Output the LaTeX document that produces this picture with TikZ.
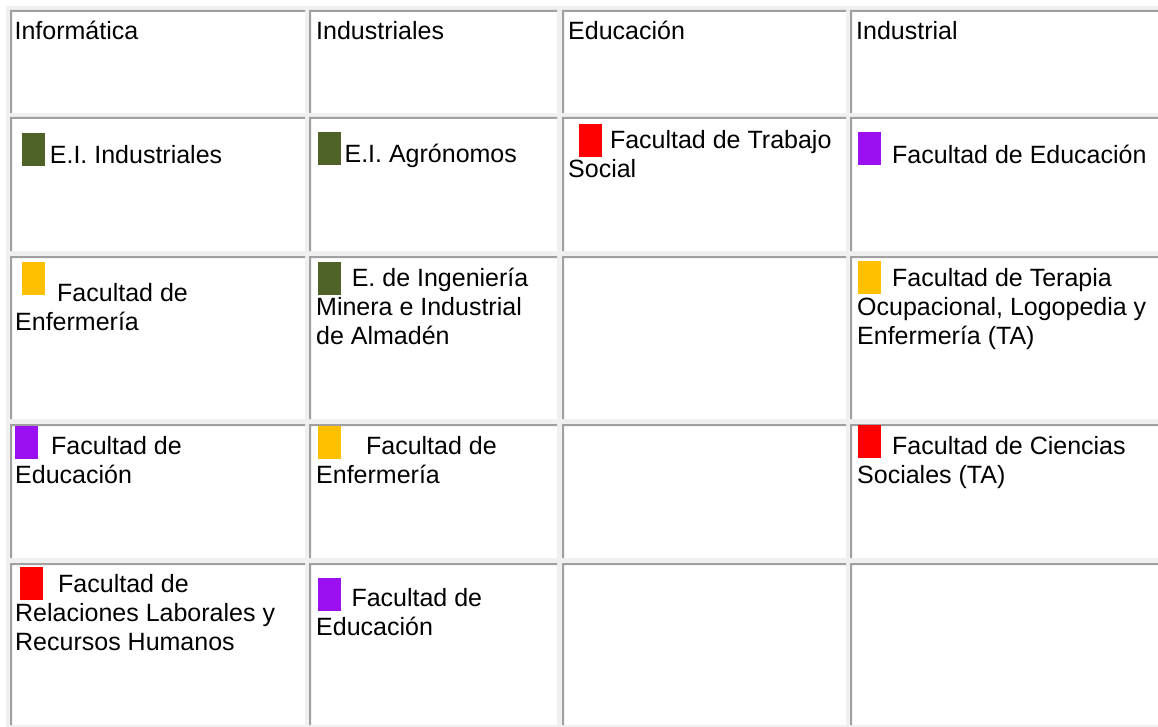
\documentclass[tikz,border=0pt]{standalone}
\usepackage{fontspec}
\setmainfont{Liberation Sans}
\definecolor{pagegray}{RGB}{240,240,240}
\definecolor{rulegray}{RGB}{160,160,160}
\definecolor{olivebox}{RGB}{79,98,40}
\definecolor{redbox}{RGB}{255,0,0}
\definecolor{amberbox}{RGB}{255,192,0}
\definecolor{violetbox}{RGB}{155,16,240}
\begin{document}
\begin{tikzpicture}[x=1pt,y=-1pt,
  swatch/.style={anchor=north west,inner sep=0pt,minimum width=23pt,minimum height=33pt},
  entry/.style={anchor=base west,inner sep=0pt,align=left,font=\fontsize{25}{29}\selectfont}]
  \useasboundingbox[fill=white] (0,0) rectangle (1158,727);
  \fill[pagegray] (6,6) rectangle (1158,727);
  % table cells
  \foreach \xa/\xb in {10/305,309/557,562/846,850/1170}
    \foreach \ya/\yb in {10/113,117/251,256/419,424/558,563/725}{
      \fill[white] (\xa,\ya) rectangle (\xb,\yb);
      \fill[rulegray] (\xa,\yb) |- (\xb,\ya) -- (\xb,\ya+2) -| (\xa+2,\yb) -- cycle;
    }
  % headers
  \node[entry] (inf) at (14.4,40) {Informática};
  \node[entry] (ind) at (316,40) {Industriales};
  \node[entry] (edu) at (568,40) {Educación};
  \node[entry] (indl) at (856,40) {Industrial};
  % row 2 (multi-line entries sit on the baseline of their last line)
  \node[swatch,fill=olivebox] (s21) at (22,133) {};
  \node[entry] (t21) at (49.7,163.3) {E.I. Industriales};
  \node[swatch,fill=olivebox] (s22) at (318,132) {};
  \node[entry] (t22) at (344.4,162.7) {E.I. Agrónomos};
  \node[swatch,fill=redbox] (s23) at (579,124) {};
  \node[entry] (t23) at (568,177.5) {\hspace*{41.8pt}Facultad de Trabajo\\Social};
  \node[swatch,fill=violetbox] (s24) at (858,132) {};
  \node[entry] (t24) at (892,163.3) {Facultad de Educación};
  % row 3
  \node[swatch,fill=amberbox] (s31) at (22,262) {};
  \node[entry] (t31) at (15,330) {\hspace*{42pt}Facultad de\\Enfermería};
  \node[swatch,fill=olivebox] (s32) at (318,262) {};
  \node[entry] (t32) at (316,344.7) {\hspace*{35.6pt}E. de Ingeniería\\Minera e Industrial\\de Almadén};
  \node[swatch,fill=amberbox] (s34) at (858,261) {};
  \node[entry] (t34) at (857,344) {\hspace*{35pt}Facultad de Terapia\\Ocupacional, Logopedia y\\Enfermería (TA)};
  % row 4
  \node[swatch,fill=violetbox] (s41) at (15,426) {};
  \node[entry] (t41) at (15,483) {\hspace*{35.9pt}Facultad de\\Educación};
  \node[swatch,fill=amberbox] (s42) at (318,426) {};
  \node[entry] (t42) at (316,483) {\hspace*{49.9pt}Facultad de\\Enfermería};
  \node[swatch,fill=redbox] (s44) at (858,425) {};
  \node[entry] (t44) at (857,483) {\hspace*{35pt}Facultad de Ciencias\\Sociales (TA)};
  % row 5
  \node[swatch,fill=redbox] (s51) at (20,567) {};
  \node[entry] (t51) at (15,650.7) {\hspace*{43pt}Facultad de\\Relaciones Laborales y\\Recursos Humanos};
  \node[swatch,fill=violetbox] (s52) at (318,578) {};
  \node[entry] (t52) at (316,635.7) {\hspace*{35.3pt}Facultad de\\Educación};
\end{tikzpicture}
\end{document}
